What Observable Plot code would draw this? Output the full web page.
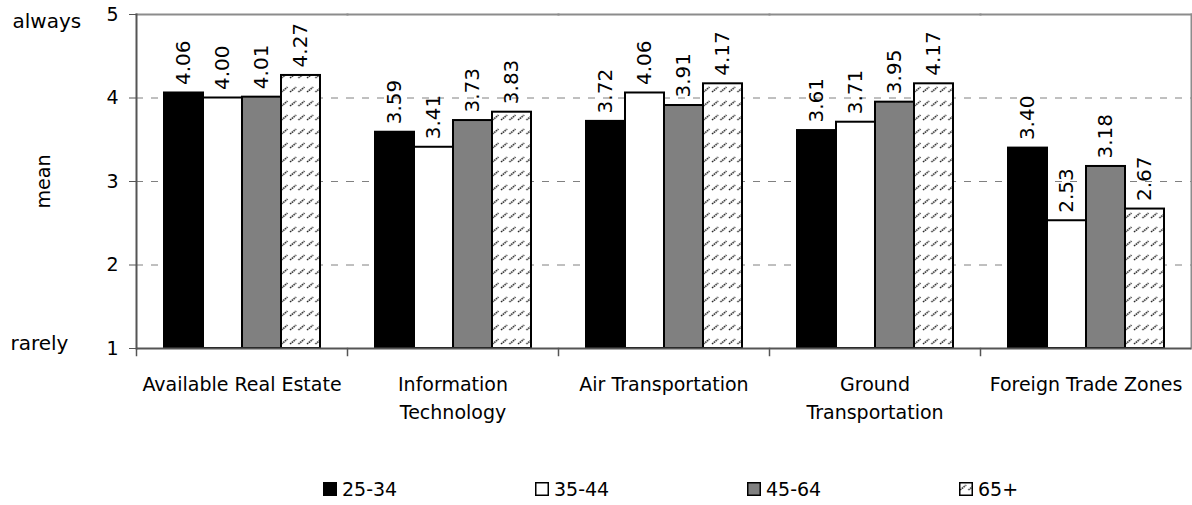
<!DOCTYPE html>
<html>
<head>
<meta charset="utf-8">
<script src="https://cdn.jsdelivr.net/npm/d3@7"></script>
<script src="https://cdn.jsdelivr.net/npm/@observablehq/plot@0.6"></script>
<style>
  html, body { margin: 0; padding: 0; background: #fff; }
  #wrap { width: 1192px; height: 505px; overflow: hidden; font-family: "DejaVu Sans", sans-serif; }
  #legend { position: relative; width: 1192px; height: 65px; }
  .item { position: absolute; top: 39px; height: 20px; line-height: 20px; font-size: 19px; display: flex; align-items: center; color: #000; }
  .item svg { margin-right: 5px; display: block; }
</style>
</head>
<body>
<div id="wrap">
  <div id="chart"></div>
  <div id="legend"></div>
</div>
<script>
const categories = ["Available Real Estate", "Information\nTechnology", "Air Transportation", "Ground\nTransportation", "Foreign Trade Zones"];
const series = ["25-34", "35-44", "45-64", "65+"];
const age25_34 = [4.06, 3.59, 3.72, 3.61, 3.40];
const age35_44 = [4.00, 3.41, 4.06, 3.71, 2.53];
const age45_64 = [4.01, 3.73, 3.91, 3.95, 3.18];
const age65plus = [4.27, 3.83, 4.17, 4.17, 2.67];
const yTicks = [1, 2, 3, 4, 5];
const gridTicks = [2, 3, 4];
const seriesFills = ["#000000", "#ffffff", "#808080", "url(#hatch65)"];

const rows = [];
[age25_34, age35_44, age45_64, age65plus].forEach((vals, s) =>
  vals.forEach((v, c) => rows.push({category: categories[c], series: series[s], value: v}))
);

const chart = Plot.plot({
  width: 1192,
  height: 440,
  marginTop: 14,
  marginBottom: 92,
  marginLeft: 136,
  marginRight: 1,
  style: {fontFamily: "DejaVu Sans, sans-serif", background: "white", color: "#000", overflow: "visible"},
  fx: {domain: categories, padding: 0},
  x: {domain: series, paddingInner: 0, paddingOuter: 0.7, axis: null},
  y: {domain: [1, 5]},
  color: {domain: series, range: seriesFills},
  marks: [
    Plot.ruleY(gridTicks, {stroke: "#808080", strokeWidth: 1, strokeDasharray: "7,8"}),
    Plot.frame({anchor: "top", stroke: "#8c8c8c", strokeWidth: 2}),
    Plot.frame({anchor: "right", facetAnchor: "right", stroke: "#8c8c8c", strokeWidth: 2}),
    Plot.barY(rows, {fx: "category", x: "series", y1: () => 1, y2: "value", fill: "series", stroke: "#000", strokeWidth: 2}),
    Plot.text(rows, {fx: "category", x: "series", y: "value", text: d => d.value.toFixed(2), rotate: -90, textAnchor: "start", dy: -8, fontSize: 20, fill: "#000"}),
    Plot.ruleY([1], {stroke: "#555", strokeWidth: 2}),
    Plot.frame({anchor: "left", facetAnchor: "left", stroke: "#555", strokeWidth: 2}),
    Plot.frame({anchor: "left", insetTop: 334, insetBottom: -7, stroke: "#555", strokeWidth: 1.5}),
    Plot.axisY(yTicks, {tickSize: 7, tickPadding: 11, fontSize: 19, stroke: "#555", tickFormat: d => String(d), label: "mean", labelArrow: "none", labelAnchor: "center", labelOffset: 100}),
    Plot.axisY([5], {tickSize: 0, tickPadding: 0, tickFormat: () => "always", textAnchor: "start", dx: -124, dy: 7, fontSize: 20, label: null}),
    Plot.axisY([1], {tickSize: 0, tickPadding: 0, tickFormat: () => "rarely", textAnchor: "start", dx: -126, dy: -5, fontSize: 20, label: null}),
    Plot.axisFx({anchor: "bottom", tickSize: 0, tickPadding: 23, fontSize: 19, lineHeight: 1.45, label: null})
  ]
});

// hatch pattern for the 65+ series
const svg = d3.select(chart);
const defs = svg.insert("defs", ":first-child");
const pat = defs.append("pattern")
  .attr("id", "hatch65")
  .attr("patternUnits", "userSpaceOnUse")
  .attr("width", 8.5)
  .attr("height", 14);
pat.append("rect").attr("width", 8.5).attr("height", 14).attr("fill", "#fff");
pat.append("line")
  .attr("x1", 1).attr("y1", 8).attr("x2", 7).attr("y2", 3)
  .attr("stroke", "#222").attr("stroke-width", 1.6).attr("stroke-dasharray", "1.5 0.8");

document.getElementById("chart").appendChild(chart);

// legend
const legend = d3.select("#legend");
series.forEach((s, i) => {
  const item = legend.append("div").attr("class", "item").style("left", (323 + i * 212) + "px");
  const sw = item.append("svg").attr("width", 14).attr("height", 14);
  sw.append("rect").attr("x", 0.75).attr("y", 0.75).attr("width", 12.5).attr("height", 12.5)
    .attr("fill", seriesFills[i]).attr("stroke", "#000").attr("stroke-width", 1.5);
  item.append("span").text(s);
});
</script>
</body>
</html>
